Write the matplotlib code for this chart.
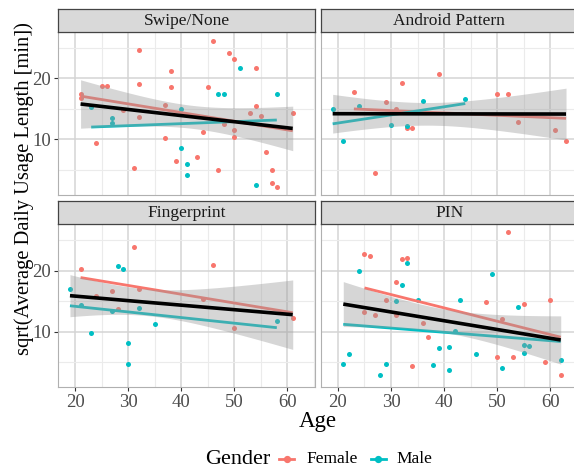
import math
import numpy as np
import matplotlib
matplotlib.use("Agg")
import matplotlib.pyplot as plt
from matplotlib.lines import Line2D

plt.rcParams['font.family'] = ['Liberation Serif', 'DejaVu Serif']

# ---------------- data ----------------
panels = ["Swipe/None", "Android Pattern", "Fingerprint", "PIN"]

swipe_f_age = [21, 21, 24, 25, 26, 29, 31, 32, 32, 32, 37, 37, 38, 38, 39, 43, 44, 45, 46, 47, 48, 49, 50, 50, 50, 53, 54, 54, 55, 56, 57, 57, 58, 61]
swipe_f_val = [17.4, 16.8, 9.4, 18.75, 18.75, 14.8, 5.3, 24.6, 19.0, 13.6, 15.6, 10.2, 21.25, 18.5, 6.5, 7.1, 11.25, 18.5, 26.1, 5.0, 12.5, 24.2, 23.2, 11.5, 10.4, 14.3, 21.7, 15.4, 13.9, 8.0, 5.0, 2.8, 2.2, 14.3]
swipe_m_age = [23, 27, 27, 40, 40, 41, 41, 47, 48, 51, 54, 58]
swipe_m_val = [15.3, 13.5, 12.6, 14.9, 8.6, 6.0, 4.1, 17.4, 17.4, 21.7, 2.55, 17.4]

android_f_age = [23, 27, 29, 31, 32, 33, 34, 39, 50, 52, 54, 61, 63]
android_f_val = [17.8, 4.5, 16.1, 14.95, 19.2, 11.8, 11.9, 20.65, 17.4, 17.4, 12.9, 11.6, 9.7]
android_m_age = [19, 21, 24, 30, 33, 36, 44]
android_m_val = [15.0, 9.7, 15.5, 12.3, 12.2, 16.3, 16.6]

finger_f_age = [21, 24, 27, 28, 31, 32, 44, 46, 50, 61]
finger_f_val = [20.2, 15.8, 16.7, 13.75, 23.9, 16.9, 15.4, 20.9, 10.6, 12.2]
finger_m_age = [19, 21, 23, 27, 28, 29, 30, 30, 32, 35, 58]
finger_m_val = [17.0, 14.4, 9.8, 13.4, 20.7, 20.2, 8.2, 4.7, 13.8, 11.3, 11.8]

pin_f_age = [25, 26, 25, 27, 29, 31, 31, 32, 33, 34, 36, 37, 48, 50, 51, 52, 53, 55, 59, 60, 62]
pin_f_val = [22.7, 22.3, 13.2, 12.7, 15.1, 18.15, 12.8, 21.8, 22.0, 4.45, 11.4, 9.1, 14.8, 5.9, 12.0, 26.25, 5.9, 14.5, 5.0, 15.2, 3.0]
pin_m_age = [21, 22, 24, 28, 29, 31, 32, 33, 35, 38, 39, 41, 41, 42, 43, 46, 49, 51, 54, 55, 56, 55, 62]
pin_m_val = [4.7, 6.3, 19.9, 3.0, 4.8, 15.0, 17.55, 21.3, 15.2, 4.6, 7.3, 7.55, 3.7, 10.1, 15.1, 6.4, 19.4, 4.0, 14.0, 7.9, 7.7, 6.5, 5.3]

panel_data = {
    "Swipe/None": (swipe_f_age, swipe_f_val, swipe_m_age, swipe_m_val),
    "Android Pattern": (android_f_age, android_f_val, android_m_age, android_m_val),
    "Fingerprint": (finger_f_age, finger_f_val, finger_m_age, finger_m_val),
    "PIN": (pin_f_age, pin_f_val, pin_m_age, pin_m_val),
}

genders = ["Female", "Male"]
x_ticks = [20, 30, 40, 50, 60]
y_ticks = [10, 20]

# ---------------- styles ----------------
W, H = 574, 470
DPI = 100
COL_F = "#F8766D"
COL_M = "#00BFC4"
TICK_COL = "#4D4D4D"

def t_quantile(p, df):
    c = math.exp(math.lgamma((df + 1) / 2) - math.lgamma(df / 2)) / math.sqrt(df * math.pi)
    xs = np.linspace(0, 10, 20001)
    pdf = c * (1 + xs ** 2 / df) ** (-(df + 1) / 2)
    cdf = 0.5 + np.concatenate([[0], np.cumsum((pdf[1:] + pdf[:-1]) / 2 * np.diff(xs))])
    return float(np.interp(p, cdf, xs))

def fit_line(x, y, ngrid=80):
    x = np.asarray(x, float); y = np.asarray(y, float)
    b, a = np.polyfit(x, y, 1)
    xs = np.linspace(x.min(), x.max(), ngrid)
    ys = a + b * xs
    n = len(x)
    resid = y - (a + b * x)
    s = math.sqrt(np.sum(resid ** 2) / (n - 2))
    sxx = np.sum((x - x.mean()) ** 2)
    se = s * np.sqrt(1 / n + (xs - x.mean()) ** 2 / sxx)
    t = t_quantile(0.975, n - 2)
    return xs, ys, ys - t * se, ys + t * se

fig = plt.figure(figsize=(W / DPI, H / DPI), dpi=DPI)

def px_axes(left, top, width, height, **kw):
    return fig.add_axes([left / W, 1 - (top + height) / H, width / W, height / H], **kw)

pw = 256.7
lefts = [58.3, 321.0]
tops = [31.7, 224.0]
ph = 163.0
strip_h = 23.2

XLIM = (16.8, 65.2)
YLIM = (0.96, 27.6)

for idx, name in enumerate(panels):
    r, c = divmod(idx, 2)
    left = lefts[c]; top = tops[r]
    ax = px_axes(left, top, pw, ph)
    fa, fv, ma, mv = panel_data[name]
    ax.set_xlim(*XLIM); ax.set_ylim(*YLIM)
    ax.set_xticks(x_ticks)
    ax.set_xticks([25, 35, 45, 55, 65], minor=True)
    ax.set_yticks(y_ticks)
    ax.set_yticks([5, 15, 25], minor=True)
    ax.grid(True, which='major', color='#D4D4D4', lw=1.1, zorder=0)
    ax.grid(True, which='minor', color='#EBEBEB', lw=0.8, zorder=0)
    ax.set_axisbelow(True)
    for sp in ax.spines.values():
        sp.set_color('#B0B0B0'); sp.set_linewidth(0.8)
    ax.tick_params(which='minor', length=0)
    ax.tick_params(which='major', length=3, width=0.8, color='#333333',
                   labelsize=13.5, labelcolor=TICK_COL, pad=2)
    if r == 0:
        ax.tick_params(axis='x', labelbottom=False, length=0)
    if c == 1:
        ax.tick_params(axis='y', labelleft=False, length=0)

    ax.scatter(fa, fv, s=13, color=COL_F, lw=0, zorder=3)
    ax.scatter(ma, mv, s=13, color=COL_M, lw=0, zorder=3)
    for xa, ya, col in ((fa, fv, COL_F), (ma, mv, COL_M)):
        xs, ys, _, _ = fit_line(xa, ya)
        ax.plot(xs, ys, color=col, lw=2.0, zorder=4, solid_capstyle='butt')
    xs, ys, lo, hi = fit_line(list(fa) + list(ma), list(fv) + list(mv))
    ax.fill_between(xs, lo, hi, color='#999999', alpha=0.4, lw=0, zorder=5)
    ax.plot(xs, ys, color='black', lw=2.6, zorder=6, solid_capstyle='butt')

    sax = px_axes(left, top - strip_h, pw, strip_h)
    sax.set_xticks([]); sax.set_yticks([])
    sax.set_facecolor('#D9D9D9')
    for sp in sax.spines.values():
        sp.set_color('#444444'); sp.set_linewidth(0.9)
    sax.text(0.5, 0.47, name, ha='center', va='center', fontsize=12.5,
             color='#1A1A1A', transform=sax.transAxes)

fig.text(318 / W, 1 - 421 / H, "Age", ha='center', va='center', fontsize=16.5)
fig.text(24 / W, 1 - 189 / H, "sqrt(Average Daily Usage Length [min])",
         ha='center', va='center', rotation=90, fontsize=14.8)

ly = 1 - 459 / H
fig.text(205 / W, ly, "Gender", ha='left', va='center', fontsize=16)
for xc, tx, lab, col in ((286.7, 306, "Female", COL_F), (378.0, 396, "Male", COL_M)):
    fig.add_artist(Line2D([(xc - 7.5) / W, (xc + 7.5) / W], [ly, ly], color=col, lw=2.0,
                          transform=fig.transFigure))
    fig.add_artist(Line2D([xc / W], [ly], color=col, marker='o', markersize=4.2, lw=0,
                          transform=fig.transFigure))
    fig.text(tx / W, ly, lab, ha='left', va='center', fontsize=12.5)

fig.savefig("out.png", dpi=DPI)
